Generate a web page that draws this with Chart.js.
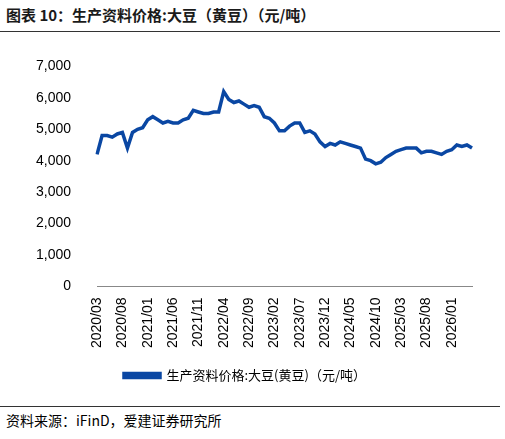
<!DOCTYPE html><html><head><meta charset="utf-8">
<script src="https://cdn.jsdelivr.net/npm/chart.js@4"></script>
<style>
body{margin:0;width:505px;height:439px;background:#fff;font-family:"Noto Sans CJK SC",sans-serif;position:relative;overflow:hidden}
#t{position:absolute;left:6px;top:4px;font-size:15px;font-weight:bold;color:#1a1a1a}
#l1{position:absolute;left:0;top:31px;width:500px;border-top:1.5px solid #333}
#l2{position:absolute;left:0;top:406px;width:500px;border-top:1px solid #333}
#s{position:absolute;left:6px;top:410px;font-size:14px;color:#000}
#c{position:absolute;left:0;top:40px}
</style></head><body>
<div id="t">图表 10：生产资料价格:大豆（黄豆）（元/吨）</div><div id="l1"></div>
<div id="c"><canvas id="cv" width="500" height="352"></canvas></div>
<div id="l2"></div><div id="s">资料来源：iFinD，爱建证券研究所</div>
<script>
const seriesName="生产资料价格:大豆(黄豆)（元/吨）";
const months=[];for(let y=2020,m=3;!(y===2026&&m===6);){months.push(y+"/"+String(m).padStart(2,"0"));m++;if(m>12){m=1;y++;}}
const values=[4200,4800,4800,4750,4850,4900,4400,4900,5000,5050,5300,5400,5300,5200,5250,5200,5200,5300,5350,5600,5550,5500,5500,5550,5550,6200,5950,5850,5900,5800,5700,5750,5700,5400,5350,5200,4950,4950,5100,5200,5200,4900,4950,4850,4600,4450,4550,4500,4600,4550,4500,4450,4400,4050,4000,3900,3950,4100,4200,4300,4350,4400,4400,4400,4250,4300,4300,4250,4200,4300,4350,4500,4450,4500,4400];
new Chart(document.getElementById("cv"),{type:"line",
data:{labels:months,datasets:[{label:seriesName,data:values,borderColor:"#0a47a3",backgroundColor:"#0a47a3",borderWidth:3.5,pointRadius:0,tension:0}]},
options:{responsive:false,animation:false,layout:{padding:{left:18,right:28,top:14}},
plugins:{legend:{position:"bottom",labels:{boxWidth:36,boxHeight:4,color:"#000",font:{size:13,family:"Noto Sans CJK SC"},padding:18}},tooltip:{enabled:false}},
scales:{x:{grid:{display:false},border:{color:"#888"},ticks:{autoSkip:false,maxRotation:90,minRotation:90,color:"#000",font:{size:14,family:"Liberation Sans"},callback:function(v,i){return i%5===0?months[i]:null}}},
y:{min:0,max:7000,grid:{display:false},border:{display:false},ticks:{stepSize:1000,color:"#000",padding:18,font:{size:14,family:"Liberation Sans"},callback:v=>v.toLocaleString("en-US")}}}}});
</script></body></html>
